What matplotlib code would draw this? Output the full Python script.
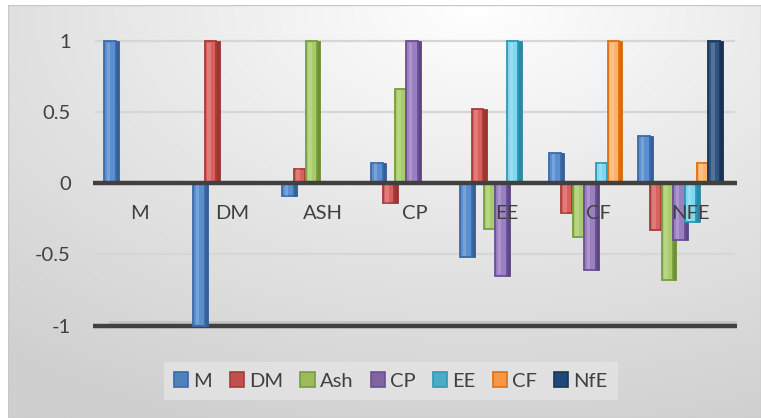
import numpy as np
import matplotlib.pyplot as plt
from matplotlib.patches import Patch, Rectangle
from matplotlib.colors import LinearSegmentedColormap

plt.rcParams['font.family'] = ['Lato', 'DejaVu Sans']

categories = ["M", "DM", "ASH", "CP", "EE", "CF", "NFE"]
series_names = ["M", "DM", "Ash", "CP", "EE", "CF", "NfE"]

# correlation of each series with each category (lower triangle, diagonal = 1)
M_vals   = [1.00, -1.00, -0.09, 0.14, -0.52, 0.21, 0.33]
DM_vals  = [0.00, 1.00, 0.10, -0.14, 0.52, -0.21, -0.33]
Ash_vals = [0.00, 0.00, 1.00, 0.66, -0.32, -0.38, -0.68]
CP_vals  = [0.00, 0.00, 0.00, 1.00, -0.65, -0.61, -0.40]
EE_vals  = [0.00, 0.00, 0.00, 0.00, 1.00, 0.14, -0.27]
CF_vals  = [0.00, 0.00, 0.00, 0.00, 0.00, 1.00, 0.14]
NfE_vals = [0.00, 0.00, 0.00, 0.00, 0.00, 0.00, 1.00]

series_vals = [M_vals, DM_vals, Ash_vals, CP_vals, EE_vals, CF_vals, NfE_vals]

face_colors = ["#5b8fd0", "#d9605c", "#a9cc6a", "#9a80c0", "#7fd8ef", "#fbb36a", "#2f5580"]
side_colors = ["#355f96", "#9a3633", "#6f8f37", "#5e4684", "#2a8aa5", "#d9690f", "#1a3150"]
edge_colors = ["#3a6aa8", "#a83c39", "#789c40", "#6a5092", "#2f98b5", "#e0700f", "#1b3556"]
legend_faces = ["#4f81bd", "#c0504d", "#9bbb59", "#8064a2", "#4bacc6", "#f79646", "#1f497d"]

fig = plt.figure(figsize=(7.61, 4.18), dpi=100)
fig.patch.set_facecolor("white")

# chart-area background with a soft radial gradient
bg = fig.add_axes([8 / 761, 0, 753 / 761, 413 / 418])
bg.set_axis_off()
yy, xx = np.mgrid[0:1:200j, 0:1:300j]
r = np.sqrt(((xx - 0.62) / 1.0) ** 2 + ((yy - 1.0) / 1.1) ** 2)
cmap = LinearSegmentedColormap.from_list("bgc", ["#ffffff", "#e6e6e6", "#cfcfcf"])
bg.imshow(r, cmap=cmap, origin="lower", extent=[0, 1, 0, 1], aspect="auto",
          vmin=0, vmax=1.0)
bg.add_patch(Rectangle((0, 0), 1, 1, fill=False, edgecolor="#c8c8c8", lw=1,
                       transform=bg.transAxes))

# one x unit = spacing between bar clusters
ax_left, ax_w = 93, 644
unit = 89.0
x0 = -(145 - ax_left) / unit
ax = fig.add_axes([ax_left / 761, (418 - 328.5) / 418, ax_w / 761, 291.5 / 418])
ax.set_facecolor("none")
ax.set_xlim(x0, x0 + ax_w / unit)
ax.set_ylim(-1.02, 1.025)

for s in ax.spines.values():
    s.set_visible(False)

# back-wall gridlines and axis lines
for g in [1.0, 0.5, -0.5]:
    ax.axhline(g, xmin=0.005, xmax=0.995, color="#d6d6d6", lw=1.6, zorder=1)
ax.axhspan(-1.0, -0.965, xmin=0.025, xmax=1.0, color="#c4c4c4", zorder=1, lw=0)
ax.axhline(-1.0, color="#404040", lw=3.2, zorder=2)

x = np.arange(len(categories))
step = 11.7 / unit
front_w = 0.128
side_w = 0.05
for i, vals in enumerate(series_vals):
    pos = x + (i - 3) * step
    v = np.array(vals)
    mask = v != 0
    ax.bar(pos[mask] + front_w / 2 + side_w / 2 - 0.012, v[mask], width=side_w,
           color=side_colors[i], edgecolor=side_colors[i], lw=0.6,
           zorder=3 + 2 * i)
    ax.bar(pos[mask], v[mask], width=front_w, color=face_colors[i],
           edgecolor=edge_colors[i], lw=1.3, zorder=4 + 2 * i)
    # highlight stripe on the bar face
    ax.bar(pos[mask] - 0.015, v[mask] * 0.985, width=0.04, color="white",
           alpha=0.18, lw=0, zorder=4 + 2 * i)

ax.axhline(0.0, color="#404040", lw=3.2, zorder=30)

ax.set_xticks([])
ax.set_yticks([1, 0.5, 0, -0.5, -1])
ax.set_yticklabels(["1", "0.5", "0", "-0.5", "-1"])
ax.tick_params(axis="y", length=0, pad=16, labelsize=14.5, labelcolor="#404040")

# category labels sit on the front edge of the floor, slightly wider spaced
label_pos = (140 - 145) / unit + x * (91.7 / unit)
for i, c in enumerate(categories):
    ax.text(label_pos[i], -0.215, c, ha="center", va="center", fontsize=14.5,
            color="#404040", zorder=40)

handles = [Patch(facecolor=legend_faces[i], edgecolor=edge_colors[i], lw=1.2,
                 label=series_names[i]) for i in range(len(series_names))]
leg = fig.legend(handles=handles, loc="center", bbox_to_anchor=(391 / 761, 1 - 381 / 418),
                 ncol=7, frameon=True, fontsize=14.5, handlelength=0.7,
                 handleheight=0.7, handletextpad=0.25, columnspacing=0.87,
                 borderpad=0.5)
leg.get_frame().set_facecolor("#e4e4e4")
leg.get_frame().set_edgecolor("none")
leg.get_frame().set_alpha(0.8)
leg.get_frame().set_boxstyle("square", pad=0.0)
for t in leg.get_texts():
    t.set_color("#404040")

fig.savefig("out.png", dpi=100)
